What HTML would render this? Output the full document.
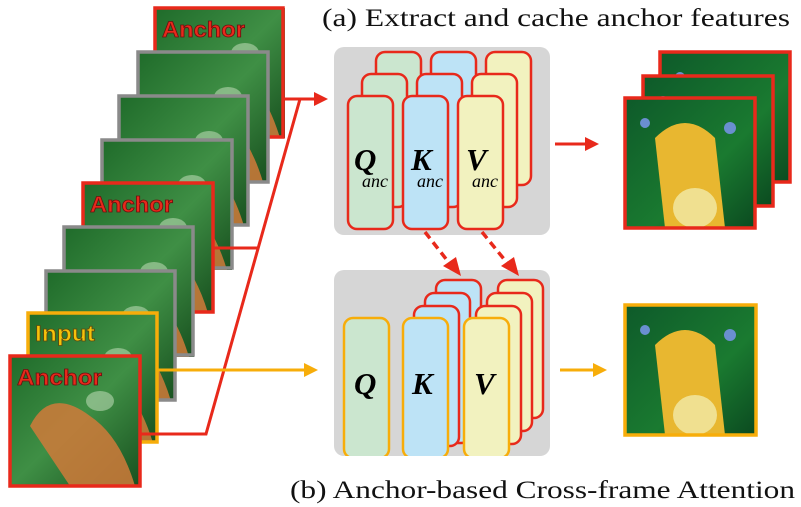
<!DOCTYPE html>
<html><head><style>
html,body{margin:0;padding:0;background:#fff;}
svg{display:block;}
</style></head><body>
<svg width="801" height="507" viewBox="0 0 801 507" xmlns="http://www.w3.org/2000/svg">
<defs>
<linearGradient id="ph" x1="0" y1="0" x2="1" y2="1">
<stop offset="0" stop-color="#1f6b2a"/><stop offset="0.5" stop-color="#3f8f45"/><stop offset="1" stop-color="#18501f"/>
</linearGradient>
<linearGradient id="ph2" x1="0" y1="0" x2="1" y2="1">
<stop offset="0" stop-color="#0e5a2a"/><stop offset="0.6" stop-color="#1a7a30"/><stop offset="1" stop-color="#0b4a20"/>
</linearGradient>
<g id="fr">
<rect x="0" y="0" width="130" height="130" fill="url(#ph)"/>
<path d="M20 70 Q40 30 80 60 Q110 80 125 130 L60 130 Z" fill="#d07a3a" opacity="0.85"/>
<ellipse cx="90" cy="45" rx="14" ry="10" fill="#b7d7b0" opacity="0.6"/>
</g>
<g id="out">
<rect x="0" y="0" width="130" height="130" fill="url(#ph2)"/>
<path d="M30 40 Q60 10 90 40 L100 130 L40 130 Z" fill="#e8b730"/>
<ellipse cx="70" cy="110" rx="22" ry="20" fill="#f0e090"/>
<circle cx="105" cy="30" r="6" fill="#6a8fd0"/><circle cx="20" cy="25" r="5" fill="#6a8fd0"/>
</g>
</defs>

<text x="322" y="26" font-family="Liberation Serif,serif" font-size="25" fill="#111" textLength="468" lengthAdjust="spacingAndGlyphs">(a) Extract and cache anchor features</text>
<text x="290" y="498" font-family="Liberation Serif,serif" font-size="25" fill="#111" textLength="505" lengthAdjust="spacingAndGlyphs">(b) Anchor-based Cross-frame Attention</text>

<!-- left frames -->
<g stroke-width="3.5" fill="none">
<use href="#fr" x="155" y="8"/><rect x="155" y="8" width="128" height="129" stroke="#e8291b"/>
<use href="#fr" x="138" y="52"/><rect x="138" y="52" width="130" height="130" stroke="#8a8a8a"/>
<use href="#fr" x="119" y="96"/><rect x="119" y="96" width="129" height="129" stroke="#8a8a8a"/>
<use href="#fr" x="102" y="140"/><rect x="102" y="140" width="130" height="128" stroke="#8a8a8a"/>
<use href="#fr" x="83" y="183"/><rect x="83" y="183" width="130" height="129" stroke="#e8291b"/>
<use href="#fr" x="64" y="227"/><rect x="64" y="227" width="129" height="128" stroke="#8a8a8a"/>
<use href="#fr" x="46" y="271"/><rect x="46" y="271" width="129" height="129" stroke="#8a8a8a"/>
<use href="#fr" x="28" y="313"/><rect x="28" y="313" width="129" height="129" stroke="#f7ad0a"/>
<use href="#fr" x="10" y="356"/><rect x="10" y="356" width="130" height="130" stroke="#e8291b"/>
</g>
<g font-family="Liberation Sans,sans-serif" font-weight="bold" font-size="22" stroke-width="0.8">
<text x="162" y="37" fill="#e8291b" stroke="#6a1010" textLength="83" lengthAdjust="spacingAndGlyphs">Anchor</text>
<text x="90" y="212" fill="#e8291b" stroke="#6a1010" textLength="83" lengthAdjust="spacingAndGlyphs">Anchor</text>
<text x="35" y="341" fill="#f7c10a" stroke="#5a4a10" textLength="60" lengthAdjust="spacingAndGlyphs">Input</text>
<text x="17" y="385" fill="#e8291b" stroke="#6a1010" textLength="85" lengthAdjust="spacingAndGlyphs">Anchor</text>
</g>

<!-- connectors -->
<g stroke="#e8291b" stroke-width="3" fill="none">
<polyline points="283,99 316,99"/>
<polyline points="140,434 206,434 300,99"/>
<polyline points="213,248 257,248"/>
<line x1="555" y1="144" x2="588" y2="144"/>
</g>
<polygon points="328,99 314,92 314,106" fill="#e8291b"/>
<polygon points="599,144 585,137 585,151" fill="#e8291b"/>
<g stroke="#f7ad0a" stroke-width="3"><line x1="157" y1="370" x2="305" y2="370"/><line x1="560" y1="370" x2="595" y2="370"/></g>
<polygon points="318,370 304,363 304,377" fill="#f7ad0a"/>
<polygon points="607,370 593,363 593,377" fill="#f7ad0a"/>

<!-- gray boxes -->
<rect x="334" y="47" width="216" height="188" rx="10" fill="#d6d6d6"/>
<rect x="334" y="270" width="216" height="186" rx="10" fill="#d6d6d6"/>

<g stroke="#e8291b" stroke-width="2.5">
<rect x="376" y="52" width="45" height="133" rx="9" fill="#cbe6cf"/>
<rect x="431" y="52" width="45" height="133" rx="9" fill="#bde3f6"/>
<rect x="486" y="52" width="45" height="133" rx="9" fill="#f2f2bf"/>
<rect x="362" y="74" width="45" height="133" rx="9" fill="#cbe6cf"/>
<rect x="417" y="74" width="45" height="133" rx="9" fill="#bde3f6"/>
<rect x="472" y="74" width="45" height="133" rx="9" fill="#f2f2bf"/>
<rect x="348" y="96" width="45" height="133" rx="9" fill="#cbe6cf"/>
<rect x="403" y="96" width="45" height="133" rx="9" fill="#bde3f6"/>
<rect x="458" y="96" width="45" height="133" rx="9" fill="#f2f2bf"/>
</g>
<g font-family="Liberation Serif,serif" fill="#000">
<text x="354" y="170" font-size="31" font-weight="bold" font-style="italic">Q</text>
<text x="362" y="187" font-size="18" font-style="italic">anc</text>
<text x="411" y="170" font-size="31" font-weight="bold" font-style="italic">K</text>
<text x="417" y="187" font-size="18" font-style="italic">anc</text>
<text x="466" y="170" font-size="31" font-weight="bold" font-style="italic">V</text>
<text x="472" y="187" font-size="18" font-style="italic">anc</text>
</g>

<!-- dashed arrows -->
<g stroke="#e8291b" stroke-width="3.5" stroke-dasharray="8,5" fill="none">
<line x1="425" y1="232" x2="450" y2="264"/>
<line x1="482" y1="232" x2="508" y2="264"/>
</g>
<polygon points="461,276 443,266 456,257" fill="#e8291b"/>
<polygon points="519,276 501,266 514,257" fill="#e8291b"/>

<!-- bottom cards -->
<g stroke="#e8291b" stroke-width="2.5">
<rect x="436" y="280" width="45" height="160" rx="9" fill="#bde3f6"/>
<rect x="425" y="293" width="45" height="150" rx="9" fill="#bde3f6"/>
<rect x="414" y="306" width="45" height="140" rx="9" fill="#bde3f6"/>
<rect x="498" y="280" width="45" height="138" rx="9" fill="#f2f2bf"/>
<rect x="487" y="293" width="45" height="138" rx="9" fill="#f2f2bf"/>
<rect x="476" y="306" width="45" height="138" rx="9" fill="#f2f2bf"/>
</g>
<g stroke="#f7ad0a" stroke-width="2.5">
<rect x="344" y="318" width="45" height="140" rx="9" fill="#cbe6cf"/>
<rect x="403" y="318" width="45" height="140" rx="9" fill="#bde3f6"/>
<rect x="464" y="318" width="45" height="140" rx="9" fill="#f2f2bf"/>
</g>
<rect x="330" y="456" width="230" height="20" fill="#fff"/>
<g font-family="Liberation Serif,serif" fill="#000" font-size="31" font-weight="bold" font-style="italic">
<text x="354" y="394">Q</text>
<text x="412" y="394">K</text>
<text x="474" y="394">V</text>
</g>

<!-- right images -->
<use href="#out" x="660" y="52"/><rect x="660" y="52" width="130" height="130" fill="none" stroke="#e8291b" stroke-width="3.5"/>
<use href="#out" x="643" y="76"/><rect x="643" y="76" width="130" height="130" fill="none" stroke="#e8291b" stroke-width="3.5"/>
<use href="#out" x="625" y="98"/><rect x="625" y="98" width="130" height="130" fill="none" stroke="#e8291b" stroke-width="3.5"/>
<use href="#out" x="625" y="305"/><rect x="625" y="305" width="131" height="130" fill="none" stroke="#f7ad0a" stroke-width="3.5"/>
</svg>
</body></html>
